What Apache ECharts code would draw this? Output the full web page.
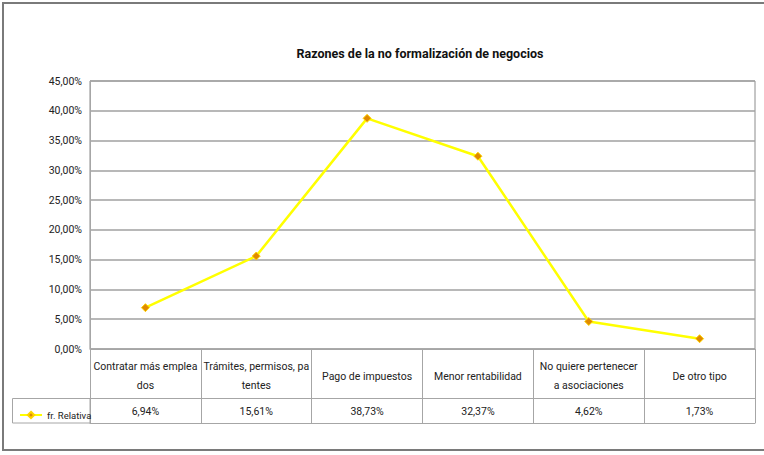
<!DOCTYPE html>
<html>
<head>
<meta charset="utf-8">
<script src="https://cdn.jsdelivr.net/npm/echarts@6/dist/echarts.min.js"></script>
<style>
  html, body { margin: 0; padding: 0; background: #fff; }
  #main { width: 764px; height: 455px; }
</style>
</head>
<body>
<div id="main"></div>
<script>
// categories (line breaks as in the original data table)
var categorias = [
    'Contratar más emplea\ndos',
    'Trámites, permisos, pa\ntentes',
    'Pago de impuestos',
    'Menor rentabilidad',
    'No quiere pertenecer\na asociaciones',
    'De otro tipo'
]
var frRelativa = [6.94, 15.61, 38.73, 32.37, 4.62, 1.73]

var fuente = 'Roboto, sans-serif'

function pct(v) {
    return v.toFixed(2).replace('.', ',') + '%'
}

var echart = echarts.init(document.getElementById('main'), null, { renderer: 'svg' })
var option = {
    animation: false,
    title: {
        text: 'Razones de la no formalización de negocios',
        left: 415,
        textAlign: 'center',
        top: 42,
        textStyle: {
            fontFamily: fuente,
            fontSize: 12.5,
            fontWeight: 'bold',
            color: '#111'
        }
    },
    legend: {
        left: 14,
        top: 405,
        itemWidth: 22,
        itemHeight: 8,
        textStyle: { fontFamily: fuente, fontSize: 9.5, color: '#222' },
        data: ['fr. Relativa']
    },
    grid: {
        left: 90,
        right: 9,
        top: 81,
        bottom: 106,
        show: true,
        borderColor: '#8c8c8c',
        borderWidth: 1
    },
    xAxis: [{
        type: 'category',
        data: categorias,
        boundaryGap: true,
        axisLine: { show: true, lineStyle: { color: '#a6a6a6', width: 1 } },
        axisTick: { show: true, length: 74, lineStyle: { color: '#a6a6a6' } },
        axisLabel: {
            interval: 0,
            margin: 27,
            verticalAlign: 'middle',
            lineHeight: 19,
            fontFamily: fuente,
            fontSize: 10.5,
            color: '#222'
        },
        splitLine: { show: false }
    }, {
        type: 'category',
        position: 'bottom',
        offset: 49,
        data: frRelativa.map(pct),
        boundaryGap: true,
        axisLine: { show: true, lineStyle: { color: '#a6a6a6', width: 1 } },
        axisTick: { show: false },
        axisLabel: {
            interval: 0,
            margin: 13,
            verticalAlign: 'middle',
            fontFamily: fuente,
            fontSize: 10.5,
            color: '#222'
        }
    }, {
        type: 'category',
        position: 'bottom',
        offset: 74,
        data: categorias,
        axisLine: { show: true, lineStyle: { color: '#a6a6a6', width: 1 } },
        axisTick: { show: false },
        axisLabel: { show: false }
    }],
    yAxis: {
        type: 'value',
        min: 0,
        max: 45,
        interval: 5,
        axisLine: { show: true, lineStyle: { color: '#a6a6a6' } },
        axisTick: { show: false },
        axisLabel: {
            margin: 8,
            fontFamily: fuente,
            fontSize: 10.5,
            color: '#222',
            formatter: function (v) { return pct(v) }
        },
        splitLine: { show: true, lineStyle: { color: '#a0a0a0', width: 1.5 } }
    },
    graphic: [{
        type: 'rect',
        shape: { x: 3, y: 3, width: 770, height: 447 },
        style: { fill: 'none', stroke: '#7a7a7a', lineWidth: 2 },
        silent: true
    }, {
        type: 'rect',
        shape: { x: 12.5, y: 398.5, width: 77.5, height: 24.5 },
        style: { fill: 'none', stroke: '#a6a6a6', lineWidth: 1 },
        silent: true
    }],
    series: [{
        name: 'fr. Relativa',
        type: 'line',
        xAxisIndex: 0,
        data: frRelativa,
        symbol: 'diamond',
        symbolSize: 8,
        lineStyle: { color: '#ffff00', width: 2.5 },
        itemStyle: { color: '#e08a00', borderColor: '#ffd400', borderWidth: 1 },
        label: { show: false }
    }]
}
echart.setOption(option)
</script>
</body>
</html>
